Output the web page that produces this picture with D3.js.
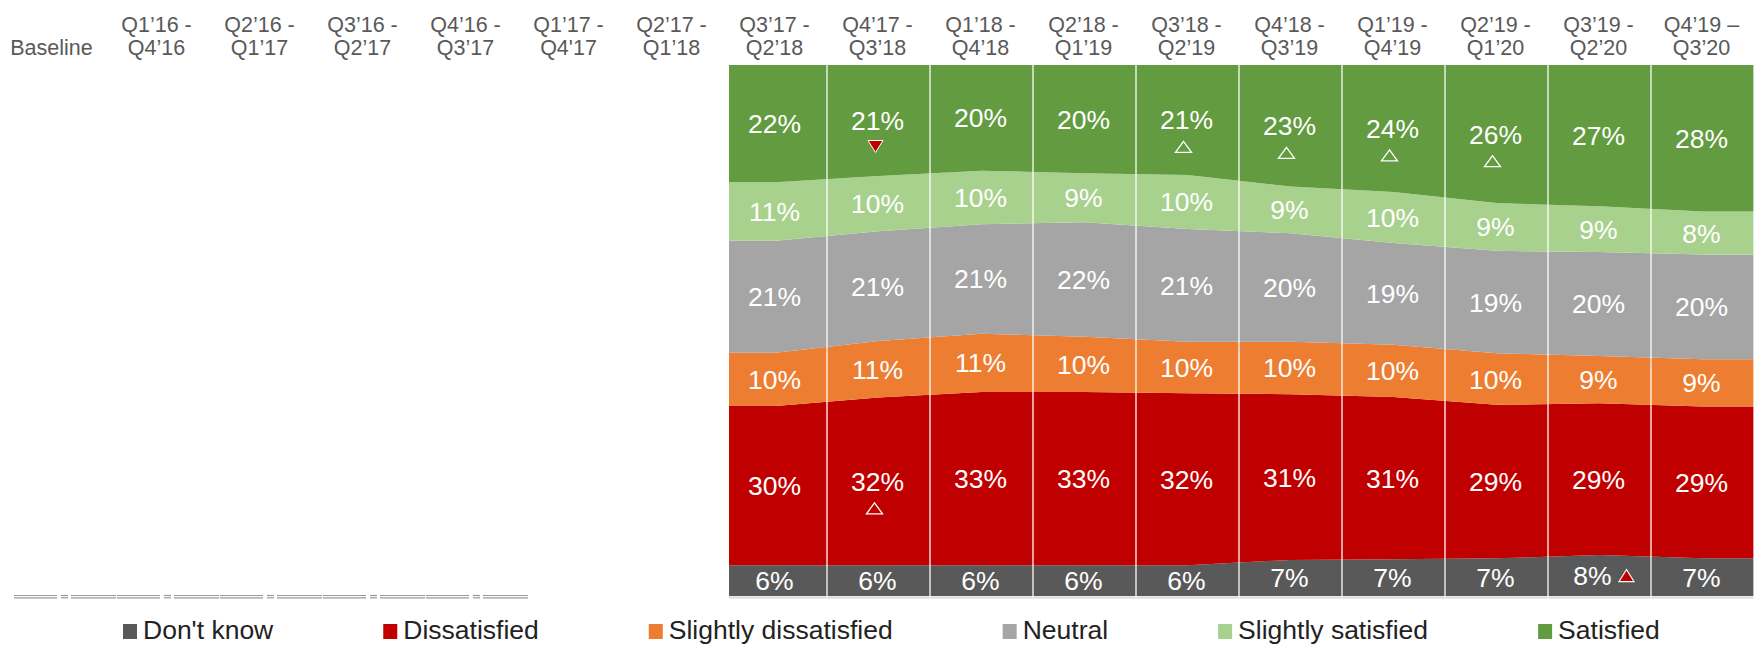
<!DOCTYPE html>
<html>
<head>
<meta charset="utf-8">
<script src="https://cdn.jsdelivr.net/npm/d3@7"></script>
<style>
  body { margin: 0; background: #fff; }
  svg { display: block; font-family: 'Liberation Sans', Arial, sans-serif; }
</style>
</head>
<body>
<div id="chart"></div>
<script>
// Satisfaction trend - stacked areas per rolling period

const periods = [
    'Baseline',
    'Q1’16 - Q4’16', 'Q2’16 - Q1’17', 'Q3’16 - Q2’17', 'Q4’16 - Q3’17',
    "Q1’17 - Q4'17", 'Q2’17 - Q1’18', 'Q3’17 - Q2’18', 'Q4’17 - Q3’18',
    'Q1’18 - Q4’18', 'Q2’18 - Q1’19', 'Q3’18 - Q2’19', 'Q4’18 - Q3’19',
    'Q1’19 - Q4’19', 'Q2’19 - Q1’20', 'Q3’19 - Q2’20', 'Q4’19 – Q3’20'
];
// periods that actually have data
const dataPeriods = periods.slice(7);

// shares in % (labels show them rounded)
const dontKnow      = [5.8, 5.8, 5.8, 5.8, 5.8, 6.8, 6.9, 7.1, 7.7, 7.1];
const dissatisfied  = [30.0, 31.6, 32.6, 32.6, 32.4, 31.2, 30.6, 28.9, 28.6, 28.6];
const slightlyDiss  = [10.0, 10.6, 11.0, 10.4, 9.7, 9.9, 9.8, 9.7, 8.9, 8.9];
const neutral       = [21.1, 20.7, 20.6, 21.6, 21.2, 20.4, 19.2, 19.3, 19.6, 19.7];
const slightlySat   = [11.0, 10.4, 10.1, 9.2, 10.2, 8.8, 9.6, 9.0, 8.6, 8.1];
const satisfied     = [22.1, 20.9, 19.9, 20.4, 20.7, 22.9, 23.9, 26.0, 26.6, 27.6];

const seriesNames = ["Don't know", 'Dissatisfied', 'Slightly dissatisfied', 'Neutral', 'Slightly satisfied', 'Satisfied'];
const seriesValues = [dontKnow, dissatisfied, slightlyDiss, neutral, slightlySat, satisfied];
const seriesColors = ['#595959', '#c00000', '#ed7d31', '#a5a5a5', '#a9d18e', '#629b40'];

// significance markers
const markers = [
    { period: 'Q4’17 - Q3’18', series: 'Satisfied', kind: 'down' },
    { period: 'Q4’17 - Q3’18', series: 'Dissatisfied', kind: 'up' },
    { period: 'Q3’18 - Q2’19', series: 'Satisfied', kind: 'up' },
    { period: 'Q4’18 - Q3’19', series: 'Satisfied', kind: 'up' },
    { period: 'Q1’19 - Q4’19', series: 'Satisfied', kind: 'up' },
    { period: 'Q2’19 - Q1’20', series: 'Satisfied', kind: 'up' },
    { period: 'Q3’19 - Q2’20', series: "Don't know", kind: 'upSide' }
];

const W = 1757, H = 646;
const svg = d3.select('#chart').append('svg').attr('width', W).attr('height', H);

const x = d3.scaleBand().domain(periods).range([3, 1754]);
const y = d3.scaleLinear().domain([0, 100]).range([596, 65]);
const color = d3.scaleOrdinal().domain(seriesNames).range(seriesColors);
const bw = x.bandwidth();
const cx = p => x(p) + bw / 2;
const areaInset = 5;

// header labels (two lines)
const header = svg.append('g').attr('fill', '#595959').attr('font-size', 21.5).attr('text-anchor', 'middle');
periods.forEach(p => {
    const lines = p.split(/ (?=Q)/);
    if (lines.length === 1) lines.unshift('');
    const hx = p === 'Baseline' ? cx(p) - 3 : cx(p) - 1;
    header.append('text').attr('x', hx).attr('y', 31.5).text(lines[0]);
    header.append('text').attr('x', hx).attr('y', 55).text(lines[1]);
});

// stacked data
const table = dataPeriods.map((p, i) => {
    const row = { period: p };
    seriesNames.forEach((s, j) => row[s] = seriesValues[j][i]);
    return row;
});
const layers = d3.stack().keys(seriesNames)(table);

const first = dataPeriods[0], last = dataPeriods[dataPeriods.length - 1];
const area = d3.area()
    .x(p => p.x)
    .y0(p => y(p.d[0]))
    .y1(p => y(p.d[1]));

svg.append('g').selectAll('path')
    .data(layers)
    .join('path')
    .attr('fill', l => color(l.key))
    .attr('d', l => {
        const pts = l.map(d => ({ x: cx(d.data.period), d }));
        pts.unshift({ x: x(first) + areaInset, d: l[0] });
        pts.push({ x: x(last) + bw, d: l[l.length - 1] });
        return area(pts);
    });

// bottom axis under data + column dividers
svg.append('line')
    .attr('x1', x(first) + areaInset).attr('x2', x(last) + bw)
    .attr('y1', 597.5).attr('y2', 597.5)
    .attr('stroke', '#d9d9d9').attr('stroke-width', 2);

const dividers = dataPeriods.slice(1).map(p => x(p)).concat([x(last) + bw]);
svg.append('g').selectAll('line')
    .data(dividers)
    .join('line')
    .attr('x1', d => d).attr('x2', d => d)
    .attr('y1', 65).attr('y2', 598)
    .attr('stroke', '#fff').attr('stroke-opacity', 0.85).attr('stroke-width', 1.5);

// double-dashed axis under the empty early periods
const dashG = svg.append('g').attr('stroke', '#9a9a9a').attr('stroke-width', 1.2);
const shift = 10;
periods.slice(0, 5).forEach(p => {
    const c = cx(p) + shift;
    const segs = [[x(p) + shift + 1, c - 7.5], [c - 3.5, c + 3.5], [c + 6.5, x(p) + bw + shift]];
    segs.forEach(s => {
        [595.5, 597.8].forEach(yy => {
            dashG.append('line').attr('x1', s[0]).attr('x2', s[1]).attr('y1', yy).attr('y2', yy);
        });
    });
});

// value labels and markers
const tri = (w, h, up) => up
    ? `M0,${-h / 2}L${w / 2},${h / 2}L${-w / 2},${h / 2}Z`
    : `M${-w / 2},${-h / 2}L${w / 2},${-h / 2}L0,${h / 2}Z`;

const labelG = svg.append('g').attr('fill', '#fff').attr('font-size', 26.5).attr('text-anchor', 'middle');
const markG = svg.append('g');
layers.forEach(l => {
    l.forEach(d => {
        const p = d.data.period;
        const mid = y((d[0] + d[1]) / 2);
        const m = markers.find(k => k.period === p && k.series === l.key);
        let lx = cx(p) - 1;
        if (m && m.kind === 'upSide') lx -= 6;
        labelG.append('text')
            .attr('x', lx)
            .attr('y', mid + 9.5)
            .text(Math.round(d[1] - d[0]) + '%');
        if (!m) return;
        if (m.kind === 'down') {
            markG.append('path').attr('d', tri(15, 12, false))
                .attr('transform', `translate(${cx(p) - 3},${mid + 26})`)
                .attr('fill', '#c00000').attr('stroke', '#fff').attr('stroke-width', 1);
        } else if (m.kind === 'up') {
            markG.append('path').attr('d', tri(16, 11, true))
                .attr('transform', `translate(${cx(p) - 4},${mid + 27})`)
                .attr('fill', 'none').attr('stroke', '#fff').attr('stroke-width', 1.3);
        } else {
            markG.append('path').attr('d', tri(15, 12, true))
                .attr('transform', `translate(${cx(p) + 27},${mid})`)
                .attr('fill', '#c00000').attr('stroke', '#fff').attr('stroke-width', 1.2);
        }
    });
});

// legend
const legend = svg.append('g').attr('font-size', 26.5).attr('fill', '#222');
let lx = 123;
seriesNames.forEach(s => {
    legend.append('rect').attr('x', lx).attr('y', 624).attr('width', 14).attr('height', 15).attr('fill', color(s));
    const t = legend.append('text').attr('x', lx + 20).attr('y', 639).text(s);
    lx += 20 + t.node().getComputedTextLength() + 110;
});
</script>
</body>
</html>
